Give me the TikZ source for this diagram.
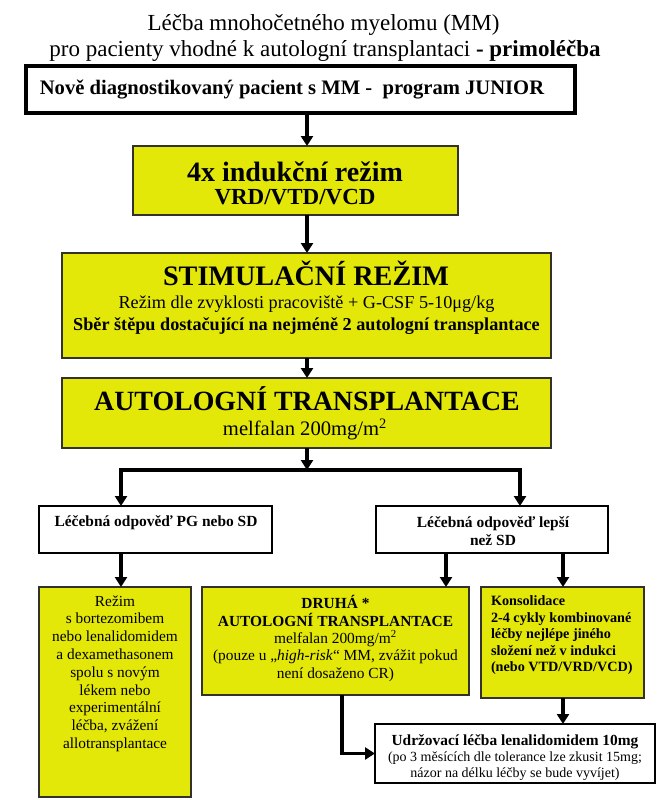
\documentclass[tikz,border=0pt]{standalone}
\usepackage{fontspec}
\setmainfont{Liberation Serif}
\usetikzlibrary{arrows.meta,calc}
\definecolor{boxyellow}{RGB}{228,232,8}
\definecolor{boxedge}{RGB}{50,50,40}
\newcommand\fsz[2]{\fontsize{#1}{#2}\selectfont}
\begin{document}
\begin{tikzpicture}[x=0.75pt,y=-0.75pt,
  ybox/.style={draw=boxedge,line width=1pt,fill=boxyellow,inner sep=0pt,outer sep=0pt},
  wbox/.style={draw=black,line width=1pt,fill=white,inner sep=0pt,outer sep=0pt},
  txt/.style={inner sep=0pt,outer sep=0pt,text=black},
  arr/.style={line width=2.4pt,-{Triangle[width=9pt,length=7.5pt]}},
]
\useasboundingbox (0,0) rectangle (664,800);
\fill[white] (0,0) rectangle (664,800);

% title
\node[txt,anchor=base] (ti1) at (323.5,30) {\fsz{17.25}{20}Léčba mnohočetného myelomu (MM)};
\node[txt,anchor=base] (ti2) at (325,56) {\fsz{17.25}{20}pro pacienty vhodné k autologní transplantaci \textbf{- primoléčba}};

% boxes
\node[wbox,line width=2.5pt,minimum width=411.75pt,minimum height=35.25pt] (b1) at (300.5,89.5) {};
\node[ybox,minimum width=243.75pt,minimum height=51.75pt] (b2) at (295.5,180.5) {};
\node[ybox,minimum width=366.75pt,minimum height=78.75pt] (b3) at (306.5,305.5) {};
\node[ybox,minimum width=366.75pt,minimum height=52.5pt] (b4) at (306.5,413) {};
\node[wbox,minimum width=174.75pt,minimum height=35.25pt] (pg) at (155.5,529.5) {};
\node[wbox,minimum width=174pt,minimum height=35.25pt] (lp) at (492,529.5) {};
\node[ybox,minimum width=114pt,minimum height=157.5pt] (rz) at (115,692) {};
\node[ybox,minimum width=200.25pt,minimum height=81pt] (dr) at (335.5,641) {};
\node[ybox,minimum width=122.25pt,minimum height=83.25pt] (ks) at (562.5,642.5) {};
\node[wbox,minimum width=210pt,minimum height=44.25pt] (ud) at (515,753.5) {};

% texts
\node[txt,anchor=base] (t1) at (292,94) {\bfseries\fsz{15.45}{18}Nově diagnostikovaný pacient s MM - \ program JUNIOR};
\node[txt,anchor=base] (t2a) at (295,181) {\bfseries\fsz{21}{24}4x indukční režim};
\node[txt,anchor=base] (t2b) at (295,204) {\bfseries\fsz{17.25}{20}VRD/VTD/VCD};
\node[txt,anchor=base] (t3a) at (306,285) {\bfseries\fsz{21.15}{24}STIMULAČNÍ REŽIM};
\node[txt,anchor=base] (t3b) at (306.5,308) {\fsz{13.65}{16}Režim dle zvyklosti pracoviště + G-CSF 5-10μg/kg};
\node[txt,anchor=base] (t3c) at (306.5,330) {\bfseries\fsz{13.65}{16}Sběr štěpu dostačující na nejméně 2 autologní transplantace};
\node[txt,anchor=base] (t4a) at (307,410) {\bfseries\fsz{20.9}{24}AUTOLOGNÍ TRANSPLANTACE};
\node[txt,anchor=base] (t4b) at (305,435) {\fsz{15.45}{18}melfalan 200mg/m\textsuperscript{2}};
\node[txt,anchor=base] (tpg) at (156,526) {\bfseries\fsz{11.6}{13.5}Léčebná odpověď PG nebo SD};
\node[txt,align=center,font=\bfseries\fsz{11.6}{13.5}] (tlp) at (493,531) {Léčebná odpověď lepší\\ než SD};
\node[txt,align=center,font=\fsz{11.5}{13.35}] (trz) at (115,673.5) {Režim\\ s bortezomibem\\ nebo lenalidomidem\\ a dexamethasonem\\ spolu s novým\\ lékem nebo\\ experimentální\\ léčba, zvážení\\ allotransplantace};
\node[txt,align=center,font=\fsz{11.55}{13.1}] (tdr) at (335.5,638.5) {\textbf{DRUHÁ *}\\ \textbf{AUTOLOGNÍ TRANSPLANTACE}\\ melfalan 200mg/m\textsuperscript{2}\\ (pouze u „\textit{high-risk}“ MM, zvážit pokud\\ není dosaženo CR)};
\node[txt,align=left,anchor=west,font=\bfseries\fsz{10.65}{12.4}] (tks) at (491,635.5) {Konsolidace\\ 2-4 cykly kombinované\\ léčby nejlépe jiného\\ složení než v indukci\\ (nebo VTD/VRD/VCD)};
\node[txt,align=center,font=\fsz{10.5}{12}] (tud) at (515,758) {\textbf{\fsz{11.55}{12}Udržovací léčba lenalidomidem 10mg}\\ (po 3 měsících dle tolerance lze zkusit 15mg;\\ názor na délku léčby se bude vyvíjet)};

% connector columns
\coordinate (xM) at (307,0);
\coordinate (xL) at (121,0);
\coordinate (xR) at (520,0);
\coordinate (xD) at (446,0);
\coordinate (xK) at (563,0);
\coordinate (xU) at (342,0);
\coordinate (jn) at (307,470);

\draw[arr] (b1.south -| xM) -- (b2.north -| xM);
\draw[arr] (b2.south -| xM) -- (b3.north -| xM);
\draw[arr] (b3.south -| xM) -- (b4.north -| xM);
\draw[arr] (b4.south -| xM) -- (jn);
\draw[arr] (jn) -| (pg.north -| xL);
\draw[arr] (jn) -| (lp.north -| xR);
\draw[arr] (pg.south -| xL) -- (rz.north -| xL);
\draw[arr] (lp.south -| xD) -- (dr.north -| xD);
\draw[arr] (lp.south -| xK) -- (ks.north -| xK);
\draw[arr] (ks.south -| xK) -- (ud.north -| xK);
\draw[arr] (dr.south -| xU) |- (ud.west);
\end{tikzpicture}
\end{document}
